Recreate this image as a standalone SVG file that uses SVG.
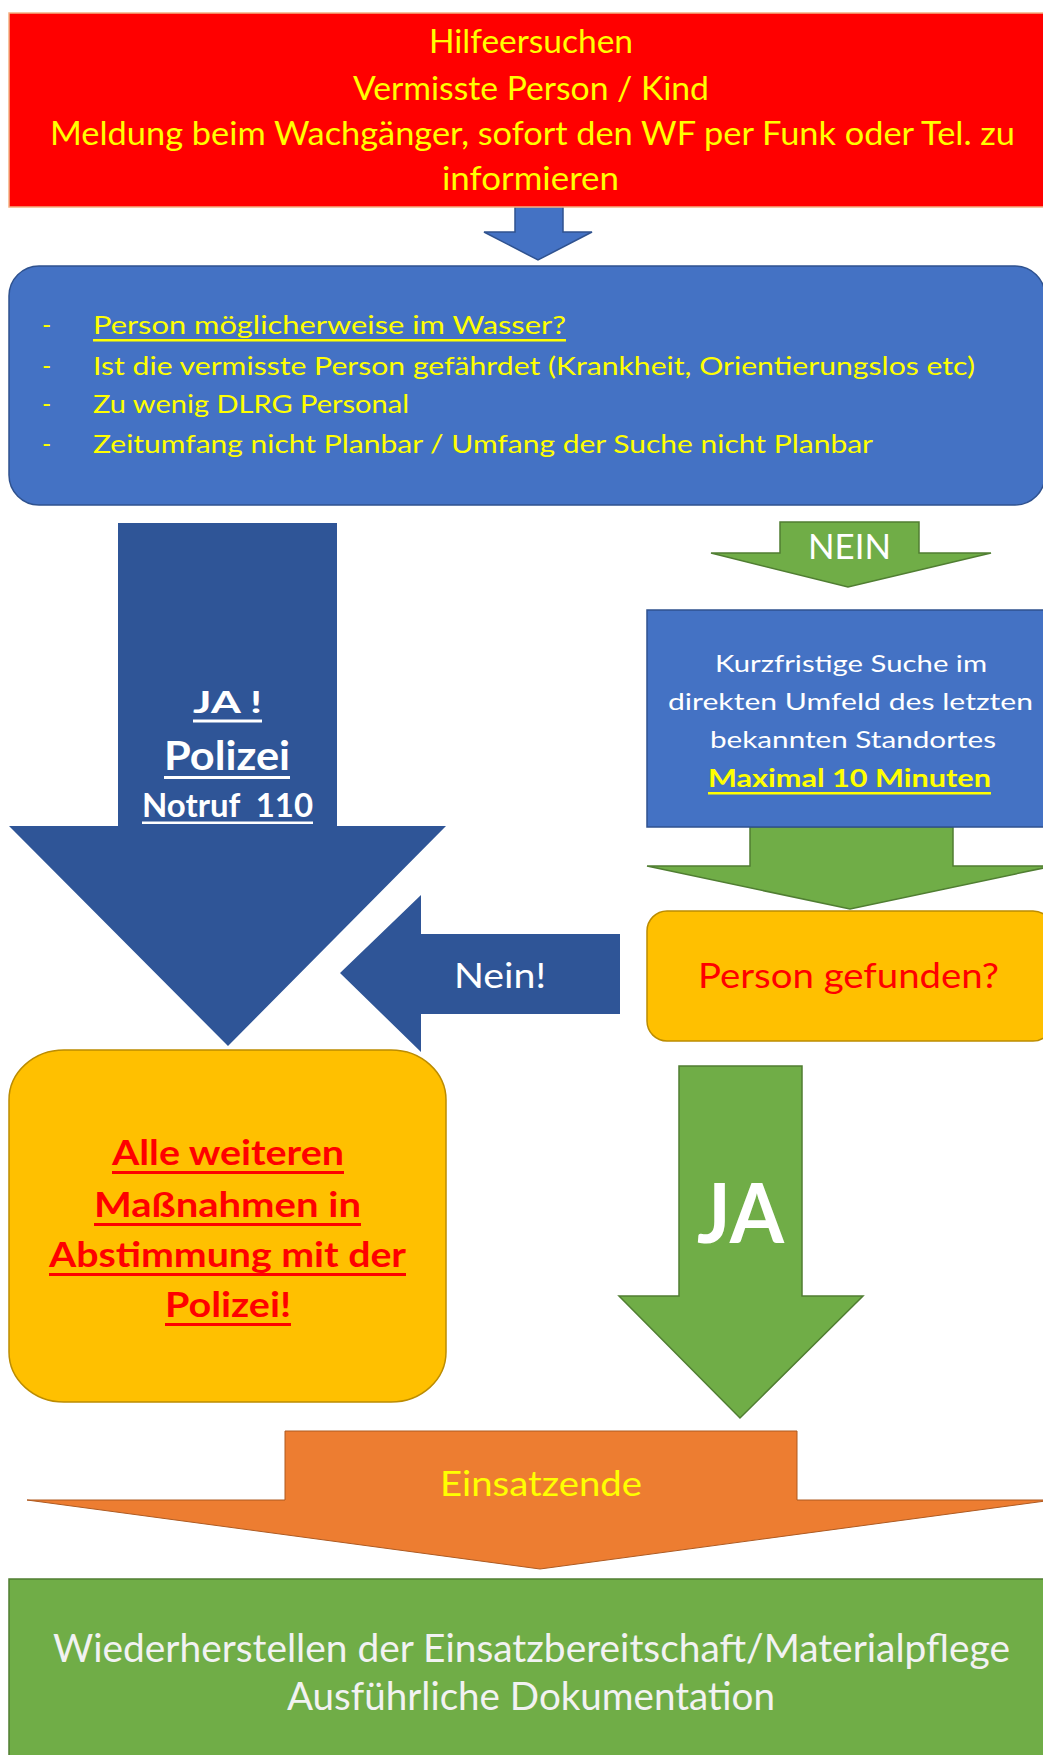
<svg xmlns="http://www.w3.org/2000/svg" width="1043" height="1755" viewBox="0 0 1043 1755">
<style>
  text { font-family: Lato, "Open Sans", "Liberation Sans", sans-serif; }
  .y { fill: #FFFF00; }
  .w { fill: #FFFFFF; }
  .lw { fill: #F2F2F2; }
  .r { fill: #FF0000; }
  .b { font-weight: bold; }
  .blue { fill: #4472C4; stroke: #2F528F; stroke-width: 1.5; }
  .dblue { fill: #2F5597; }
  .green { fill: #70AD47; stroke: #507E32; stroke-width: 1.5; }
  .yel { fill: #FFC000; stroke: #BC8C00; stroke-width: 1.5; }
  .org { fill: #ED7D31; stroke: #AE5A21; stroke-width: 1; }
</style>
<rect width="1043" height="1755" fill="#FFFFFF"/>

<g id="connectors">
  <g id="arrow-start">
    <polygon class="blue" stroke="none" points="515,205 563,205 563,232 592,232 538,260 484,232 515,232"/>
  </g>
  <g id="arrow-ja-polizei">
    <polygon class="dblue" points="118,523 337,523 337,826 446,826 228,1046 9,826 118,826"/>
    <text class="w b" x="193" y="713" font-size="30" textLength="69" lengthAdjust="spacingAndGlyphs">JA !</text>
    <rect x="193" y="719.5" width="69" height="3" fill="#FFFFFF"/>
    <text class="w b" x="164" y="770" font-size="41" textLength="126" lengthAdjust="spacingAndGlyphs">Polizei</text>
    <rect x="164" y="776" width="126" height="3" fill="#FFFFFF"/>
    <text class="w b" x="142" y="817" font-size="33" textLength="171" lengthAdjust="spacingAndGlyphs" xml:space="preserve">Notruf  110</text>
    <rect x="142" y="821.5" width="171" height="2.5" fill="#FFFFFF"/>
  </g>
  <g id="arrow-nein">
    <polygon class="green" points="780,522 919,522 919,553 991,553 848,587 711,553 780,553"/>
    <text class="w" x="808" y="559" font-size="34" textLength="83" lengthAdjust="spacingAndGlyphs">NEIN</text>
  </g>
  <g id="arrow-suche-to-gefunden">
    <polygon class="green" points="750,827 953,827 953,866 1053,866 850,909 647,866 750,866"/>
  </g>
  <g id="arrow-nein-gefunden">
    <polygon class="dblue" points="620,934 421,934 421,895 340,973 421,1052 421,1014 620,1014"/>
    <text class="w" x="454" y="988" font-size="35" textLength="92" lengthAdjust="spacingAndGlyphs">Nein!</text>
  </g>
  <g id="arrow-ja-gefunden">
    <polygon class="green" points="679,1066 802,1066 802,1296 863,1296 740,1418 619,1296 679,1296"/>
    <text class="w b" x="697" y="1243" font-size="82" textLength="87" lengthAdjust="spacingAndGlyphs">JA</text>
  </g>
  <g id="arrow-einsatzende">
    <polygon class="org" points="285,1431 797,1431 797,1500 1053,1500 540,1569 27,1500 285,1500"/>
    <text class="y" x="440" y="1496" font-size="35" textLength="202" lengthAdjust="spacingAndGlyphs">Einsatzende</text>
  </g>
</g>

<g id="node-hilfeersuchen">
  <rect x="9" y="13" width="1044" height="194" fill="#FF0000" stroke="#F4B183" stroke-width="1.5"/>
  <text class="y" x="429" y="53" font-size="32" textLength="204" lengthAdjust="spacingAndGlyphs">Hilfeersuchen</text>
  <text class="y" x="353" y="100" font-size="32" textLength="356" lengthAdjust="spacingAndGlyphs">Vermisste Person / Kind</text>
  <text class="y" x="50" y="145" font-size="32" textLength="965" lengthAdjust="spacingAndGlyphs">Meldung beim Wachgänger, sofort den WF per Funk oder Tel. zu</text>
  <text class="y" x="442" y="190" font-size="32" textLength="177" lengthAdjust="spacingAndGlyphs">informieren</text>
</g>

<g id="node-kriterien">
  <rect class="blue" x="9" y="266" width="1036" height="239" rx="30" ry="30"/>
  <text class="y" x="42" y="334" font-size="25">-</text>
  <text class="y" x="93" y="334" font-size="25" textLength="473" lengthAdjust="spacingAndGlyphs">Person möglicherweise im Wasser?</text>
  <rect x="93" y="339" width="473" height="2.5" fill="#FFFF00"/>
  <text class="y" x="42" y="375" font-size="25">-</text>
  <text class="y" x="93" y="375" font-size="25" textLength="882" lengthAdjust="spacingAndGlyphs">Ist die vermisste Person gefährdet (Krankheit, Orientierungslos etc)</text>
  <text class="y" x="42" y="413" font-size="25">-</text>
  <text class="y" x="93" y="413" font-size="25" textLength="316" lengthAdjust="spacingAndGlyphs">Zu wenig DLRG Personal</text>
  <text class="y" x="42" y="453" font-size="25">-</text>
  <text class="y" x="93" y="453" font-size="25" textLength="780" lengthAdjust="spacingAndGlyphs">Zeitumfang nicht Planbar / Umfang der Suche nicht Planbar</text>
</g>

<g id="node-kurzfristige-suche">
  <rect class="blue" x="647" y="610" width="406" height="217"/>
  <text class="w" x="715" y="672" font-size="24" textLength="272" lengthAdjust="spacingAndGlyphs">Kurzfristige Suche im</text>
  <text class="w" x="668" y="710" font-size="24" textLength="365" lengthAdjust="spacingAndGlyphs">direkten Umfeld des letzten</text>
  <text class="w" x="710" y="748" font-size="24" textLength="286" lengthAdjust="spacingAndGlyphs">bekannten Standortes</text>
  <text class="y b" x="708" y="787" font-size="24" textLength="283" lengthAdjust="spacingAndGlyphs">Maximal 10 Minuten</text>
  <rect x="708" y="792" width="283" height="2.5" fill="#FFFF00"/>
</g>

<g id="node-person-gefunden">
  <rect class="yel" x="647" y="911" width="406" height="130" rx="20" ry="20"/>
  <text class="r" x="698" y="988" font-size="35" textLength="301" lengthAdjust="spacingAndGlyphs">Person gefunden?</text>
</g>

<g id="node-polizei-massnahmen">
  <rect class="yel" x="9" y="1050" width="437" height="352" rx="55" ry="50"/>
  <text class="r b" x="112" y="1165" font-size="34" textLength="232" lengthAdjust="spacingAndGlyphs">Alle weiteren</text>
  <rect x="112" y="1171" width="232" height="3" fill="#FF0000"/>
  <text class="r b" x="94" y="1217" font-size="34" textLength="267" lengthAdjust="spacingAndGlyphs">Maßnahmen in</text>
  <rect x="94" y="1223" width="267" height="3" fill="#FF0000"/>
  <text class="r b" x="49" y="1267" font-size="34" textLength="357" lengthAdjust="spacingAndGlyphs">Abstimmung mit der</text>
  <rect x="49" y="1273" width="357" height="3" fill="#FF0000"/>
  <text class="r b" x="165" y="1317" font-size="34" textLength="126" lengthAdjust="spacingAndGlyphs">Polizei!</text>
  <rect x="165" y="1323" width="126" height="3" fill="#FF0000"/>
</g>

<g id="node-wiederherstellen">
  <rect class="green" x="9" y="1579" width="1044" height="190"/>
  <text class="lw" x="53" y="1662" font-size="38" textLength="957" lengthAdjust="spacingAndGlyphs">Wiederherstellen der Einsatzbereitschaft/Materialpflege</text>
  <text class="lw" x="287" y="1710" font-size="38" textLength="488" lengthAdjust="spacingAndGlyphs">Ausführliche Dokumentation</text>
</g>
</svg>
